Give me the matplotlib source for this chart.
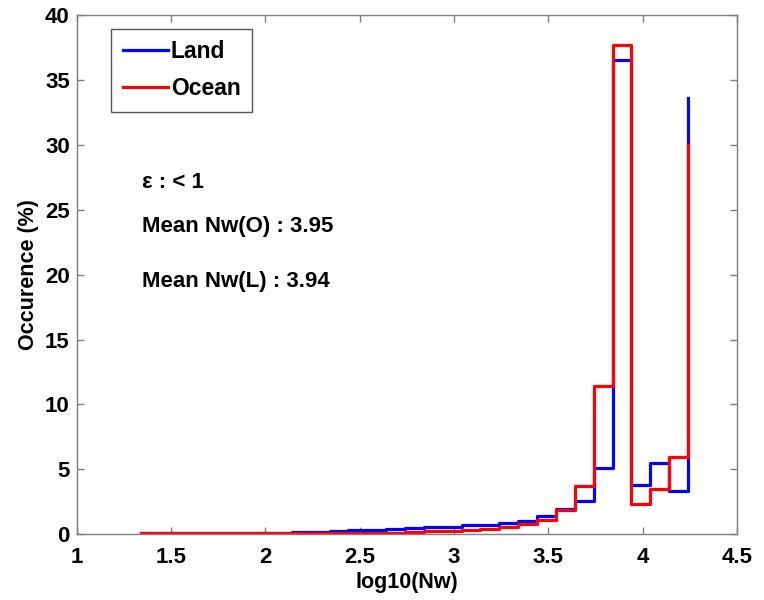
import matplotlib
matplotlib.use("Agg")
import matplotlib.pyplot as plt
import numpy as np

plt.rcParams['font.family'] = ['Liberation Sans', 'DejaVu Sans']

edges = [1.34, 1.44, 1.54, 1.64, 1.74, 1.84, 1.94, 2.04, 2.14, 2.24,
         2.34, 2.44, 2.54, 2.64, 2.74, 2.84, 2.94, 3.04, 3.14, 3.24,
         3.34, 3.44, 3.54, 3.64, 3.74, 3.84, 3.94, 4.04, 4.14, 4.24]
land = [0.08, 0.13, 0.13, 0.13, 0.09, 0.09, 0.10, 0.10, 0.14, 0.20,
        0.22, 0.30, 0.33, 0.40, 0.50, 0.54, 0.60, 0.72, 0.72, 0.85,
        1.02, 1.44, 1.95, 2.55, 5.13, 36.5, 3.77, 5.46, 3.33, 33.6]
ocean = [0.08, 0.08, 0.08, 0.08, 0.08, 0.08, 0.08, 0.08, 0.08, 0.09,
         0.09, 0.10, 0.10, 0.12, 0.18, 0.22, 0.28, 0.32, 0.38, 0.54,
         0.77, 1.12, 1.87, 3.72, 11.4, 37.7, 2.30, 3.50, 5.97, 30.0]

xticks = [1, 1.5, 2, 2.5, 3, 3.5, 4, 4.5]
xticklabels = ["1", "1.5", "2", "2.5", "3", "3.5", "4", "4.5"]
yticks = [0, 5, 10, 15, 20, 25, 30, 35, 40]

fig = plt.figure(figsize=(7.64, 6.0), dpi=100)
ax = fig.add_axes([0.1004, 0.1095, 0.8643, 0.8655])

ax.step(edges, land, where='post', color=(0, 0, 1), lw=2.3, label='Land')
ax.step(edges, ocean, where='post', color=(1, 0, 0), lw=2.3, label='Ocean')

ax.set_xlim(1, 4.5)
ax.set_ylim(0, 40)
ax.set_xticks(xticks)
ax.set_xticklabels(xticklabels)
ax.set_yticks(yticks)

for s in ax.spines.values():
    s.set_color('#7f7f7f')
    s.set_linewidth(1.0)
ax.tick_params(direction='in', length=5, width=1, color='#7f7f7f',
               top=True, right=True, labelsize=16)
ax.tick_params(axis='x', pad=9)
ax.tick_params(axis='y', pad=5)
for lab in ax.get_xticklabels() + ax.get_yticklabels():
    lab.set_fontweight('bold')

ax.set_xlabel('log10(Nw)', fontsize=15.5, fontweight='bold', labelpad=3)
ax.set_ylabel('Occurence (%)', fontsize=15.5, fontweight='bold', labelpad=4)

leg = ax.legend(loc='upper left', bbox_to_anchor=(0.052, 0.973),
                prop={'weight': 'bold', 'size': 16.5},
                fancybox=False, framealpha=1, edgecolor='#555555',
                handlelength=2.0, handletextpad=0.1, borderpad=0.5,
                labelspacing=0.6, borderaxespad=0)
leg.get_frame().set_linewidth(1.0)

ax.text(1.345, 27.06, 'ε : < 1', fontsize=16, fontweight='bold', va='center', ha='left')
ax.text(1.345, 23.7, 'Mean Nw(O) : 3.95', fontsize=16, fontweight='bold', va='center', ha='left')
ax.text(1.345, 19.5, 'Mean Nw(L) : 3.94', fontsize=16, fontweight='bold', va='center', ha='left')

fig.savefig('out.png', dpi=100)
